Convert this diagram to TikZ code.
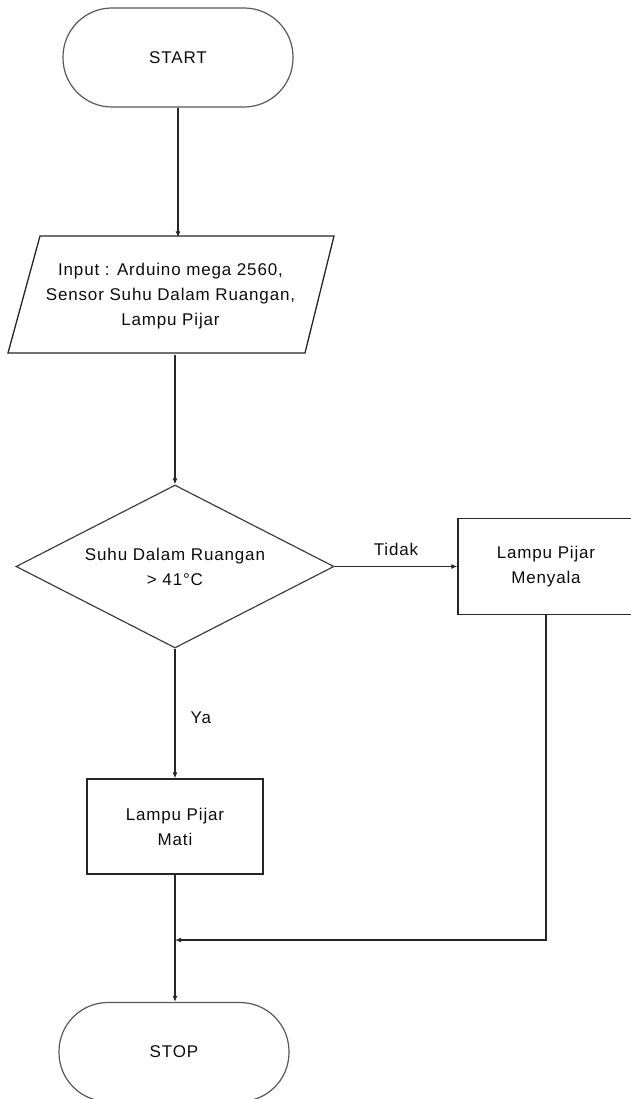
\documentclass[tikz,border=0pt]{standalone}
\usepackage{fontspec}
\setmainfont{Liberation Sans}[LetterSpace=5]
\usetikzlibrary{shapes.geometric,arrows.meta}
\begin{document}
\begin{tikzpicture}[x=1pt,y=-1pt,
  every node/.style={font=\fontsize{17}{25}\selectfont, text=black!95, align=center},
  term/.style={draw=black!65, line width=1.2pt, rounded corners=49pt, minimum width=230pt, minimum height=99pt, inner sep=0pt},
  proc/.style={draw=black!85, line width=1.3pt, minimum width=176pt, minimum height=95pt, inner sep=0pt},
  dec/.style={diamond, draw=black!75, line width=1.2pt, minimum width=318pt, minimum height=163pt, inner sep=0pt, aspect=1.95},
  shapeline/.style={draw=black!85, line width=1.3pt},
  link/.style={draw=black!85, line width=1.3pt, -{Latex[length=6pt,width=5pt]}},
  lbl/.style={inner sep=0pt}]
\useasboundingbox[fill=white] (0,0) rectangle (631,1099);

\node[term] (start) at (178,57.5) {START};

\node[inner sep=0pt, minimum width=265pt, minimum height=117pt] (inp) at (170.5,296)
  {Input : Arduino mega 2560,\\Sensor Suhu Dalam Ruangan,\\Lampu Pijar};
\draw[shapeline] (40,236) -- (334,236) -- (305,353) -- (8,353) -- cycle;

\node[dec] (dec) at (175,566.5) {Suhu Dalam Ruangan\\> 41°C};

\node[proc, minimum height=96pt] (on) at (546,566.5) {Lampu Pijar\\Menyala};

\node[proc] (off) at (175,826.5) {Lampu Pijar\\Mati};

\node[term] (stop) at (174,1052) {STOP};

\coordinate (join) at (175,940);

\draw[link] (start.south) -- (start.south |- inp.north);
\draw[link] (inp.south -| dec.north) -- (dec.north);
\draw[link] (dec.east) -- node[lbl, above, yshift=10pt] {Tidak} (on.west);
\draw[link] (dec.south) -- node[lbl, pos=0.53, anchor=west, xshift=15pt] {Ya} (off.north);
\draw[link] (on.south) |- (join);
\draw[link] (off.south) -- (off.south |- stop.north);
\end{tikzpicture}
\end{document}
